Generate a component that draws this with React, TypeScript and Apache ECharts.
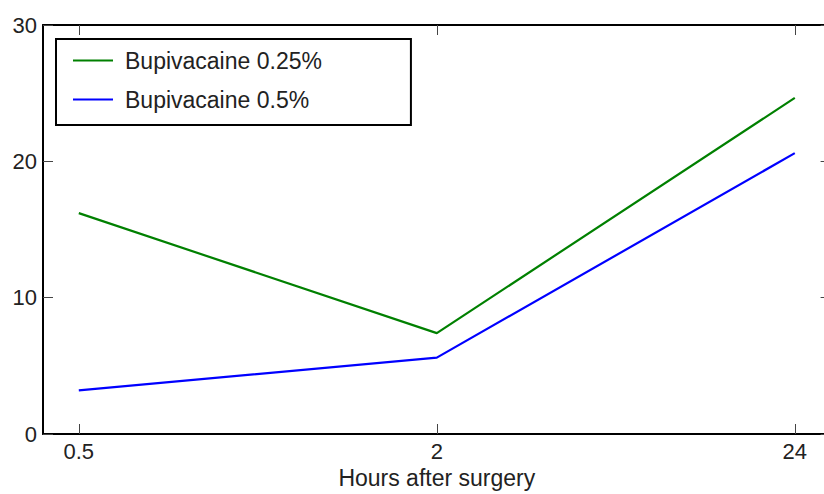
import React, { useEffect, useRef } from "react";
import * as echarts from "echarts";

const hours = ["0.5", "2", "24"];
const bupi025 = [16.2, 7.4, 24.65];
const bupi05 = [3.2, 5.6, 20.6];
const yTicks = [0, 10, 20, 30];

const FONT = "'Liberation Sans', Arial, Helvetica, sans-serif";

export default function App() {
  const ref = useRef<HTMLDivElement>(null);
  useEffect(() => {
    document.body.style.margin = "0";
    const chart = echarts.init(ref.current!, null, { renderer: "svg" });
    const idx = hours.map((_, i) => i);
    const tickCommon = { show: true, inside: true, length: 10, lineStyle: { color: "#444", width: 1 } };
    const lineCommon = { show: true, onZero: false, lineStyle: { color: "#000", width: 2 } };
    chart.setOption({
      animation: false,
      backgroundColor: "#fff",
      textStyle: { fontFamily: FONT },
      grid: { left: 43, top: 25, width: 787.6, height: 409, containLabel: false, outerBoundsMode: "none" },
      legend: {
        orient: "vertical",
        left: 56,
        top: 39,
        padding: [10, 89, 14, 17],
        itemGap: 16,
        itemWidth: 40,
        itemHeight: 2,
        icon: "path://M0,0h40v2h-40z",
        borderColor: "#000",
        borderWidth: 2,
        borderRadius: 0,
        backgroundColor: "#fff",
        textStyle: { fontSize: 23, lineHeight: 23, color: "#222", fontFamily: FONT, padding: [0, 0, 0, 7] },
        data: ["Bupivacaine 0.25%", "Bupivacaine 0.5%"],
      },
      xAxis: [
        {
          type: "value",
          position: "bottom",
          min: -0.1,
          max: 2.1,
          axisLine: lineCommon,
          axisTick: { ...tickCommon, customValues: idx },
          axisLabel: {
            customValues: idx,
            formatter: (v: number) => hours[Math.round(v)],
            fontSize: 22,
            color: "#222",
            margin: 6,
            fontFamily: FONT,
          },
          splitLine: { show: false },
          name: "Hours after surgery",
          nameLocation: "middle",
          nameGap: 31,
          nameTextStyle: { fontSize: 23, color: "#222", fontFamily: FONT },
        },
        {
          type: "value",
          position: "top",
          min: -0.1,
          max: 2.1,
          axisLine: lineCommon,
          axisTick: { ...tickCommon, customValues: idx },
          axisLabel: { show: false },
          splitLine: { show: false },
        },
      ],
      yAxis: [
        {
          type: "value",
          position: "left",
          min: yTicks[0],
          max: yTicks[yTicks.length - 1],
          interval: 10,
          axisLine: lineCommon,
          axisTick: tickCommon,
          axisLabel: { fontSize: 22, color: "#222", margin: 6, fontFamily: FONT },
          splitLine: { show: false },
        },
        {
          type: "value",
          position: "right",
          min: yTicks[0],
          max: yTicks[yTicks.length - 1],
          interval: 10,
          axisLine: lineCommon,
          axisTick: tickCommon,
          axisLabel: { show: false },
          splitLine: { show: false },
        },
      ],
      series: [
        {
          name: "Bupivacaine 0.25%",
          type: "line",
          symbol: "none",
          data: bupi025.map((v, i) => [i, v]),
          lineStyle: { color: "#008000", width: 2.2 },
          itemStyle: { color: "#008000" },
        },
        {
          name: "Bupivacaine 0.5%",
          type: "line",
          symbol: "none",
          data: bupi05.map((v, i) => [i, v]),
          lineStyle: { color: "#0000ff", width: 2.2 },
          itemStyle: { color: "#0000ff" },
        },
      ],
    });
    return () => chart.dispose();
  }, []);
  return <div ref={ref} style={{ position: "absolute", left: 0, top: 0, width: 824, height: 494 }} />;
}
